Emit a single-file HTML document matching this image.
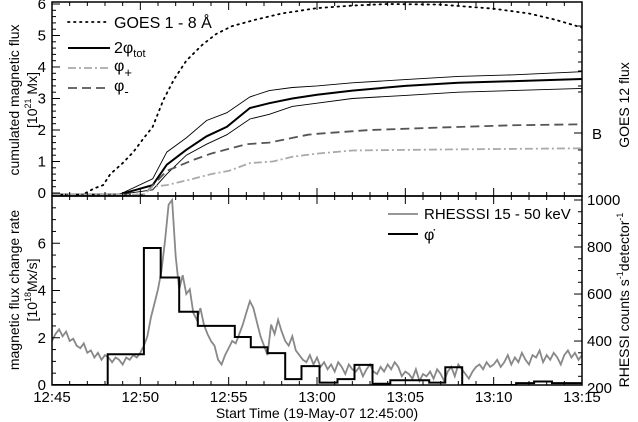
<!DOCTYPE html>
<html><head><meta charset="utf-8"><style>
html,body{margin:0;padding:0;background:#fff;}
svg{display:block;font-family:"Liberation Sans",sans-serif;}
</style></head><body>
<svg id="c" width="638" height="422" viewBox="0 0 638 422">
<text x="592" y="139" font-size="15">B</text>
<text x="317" y="418" font-size="14" text-anchor="middle">Start Time (19-May-07 12:45:00)</text>
<text transform="translate(19,100) rotate(-90)" font-size="14" text-anchor="middle">cumulated magnetic flux</text>
<text transform="translate(37,100) rotate(-90)" font-size="14" text-anchor="middle">[10<tspan font-size="9" dy="-6">21</tspan><tspan dy="6"> Mx]</tspan></text>
<text transform="translate(19,290) rotate(-90)" font-size="14" text-anchor="middle">magnetic flux change rate</text>
<text transform="translate(37,290) rotate(-90)" font-size="14" text-anchor="middle">[10<tspan font-size="9" dy="-6">18</tspan><tspan dy="6">Mx/s]</tspan></text>
<text transform="translate(629,105) rotate(-90)" font-size="14" text-anchor="middle">GOES 12 flux</text>
<text transform="translate(629,300) rotate(-90)" font-size="14" text-anchor="middle">RHESSI counts  s<tspan font-size="9" dy="-6">-1</tspan><tspan dy="6">detector</tspan><tspan font-size="9" dy="-6">-1</tspan></text>
<g>
<line x1="68" y1="22" x2="110" y2="22" stroke="#000" stroke-width="1.8" stroke-dasharray="1.5,4.5" stroke-linecap="round"/>
<text x="114" y="28" font-size="16">GOES 1 - 8 Å</text>
<line x1="68" y1="48" x2="110" y2="48" stroke="#000" stroke-width="2"/>
<text x="114" y="53" font-size="16">2φ<tspan font-size="11" dy="4">tot</tspan></text>
<line x1="68" y1="68" x2="110" y2="68" stroke="#aaa" stroke-width="1.8" stroke-dasharray="8,3,2,3"/>
<text x="114" y="71" font-size="16">φ<tspan font-size="13" dy="6">+</tspan></text>
<line x1="68" y1="88" x2="110" y2="88" stroke="#555" stroke-width="1.8" stroke-dasharray="9,5"/>
<text x="114" y="91" font-size="16">φ<tspan font-size="13" dy="5">-</tspan></text>
</g>
<g>
<line x1="388" y1="214" x2="418" y2="214" stroke="#888" stroke-width="1.8"/>
<text x="424" y="219" font-size="15">RHESSSI 15 - 50 keV</text>
<line x1="388" y1="234" x2="418" y2="234" stroke="#000" stroke-width="2"/>
<text x="424" y="240" font-size="16">φ̇</text>
</g>
</svg>
<script>
// ---- data ----
const goesT=[1.9,2.4,2.9,3.3,4,4.6,5.2,5.7,6.3,6.9,7.6,8.5,9.3,10.2,11.5,13,15,17,19,22,25,27,28.5,30];
const goesV=[0,0.15,0.25,0.6,0.95,1.3,1.75,2.1,2.95,3.6,4.2,4.7,5.05,5.3,5.5,5.7,5.87,5.95,6.0,5.98,5.85,5.7,5.5,5.25];
const totT=[0,3.8,5.7,6.5,7.6,8.75,9.9,11.2,12.3,13.6,15,17,20,23,26,30];
const totV=[-0.05,-0.05,0.25,0.9,1.37,1.8,2.1,2.7,2.85,3.0,3.12,3.25,3.4,3.5,3.55,3.62];
const totHi=[-0.05,-0.05,0.45,1.3,1.75,2.3,2.55,3.05,3.25,3.35,3.4,3.5,3.6,3.7,3.75,3.85];
const totLo=[-0.05,-0.05,0.1,0.6,1.2,1.55,1.85,2.35,2.5,2.75,2.85,3.0,3.1,3.2,3.25,3.32];
const minT=[0,5.2,6.5,8,9,10,11,12.3,13.6,14.5,15,18,22,26,30];
const minV=[-0.05,-0.05,0.7,1.05,1.25,1.4,1.55,1.6,1.75,1.85,1.88,2.0,2.08,2.15,2.18];
const plusT=[0,5.2,5.7,6.5,8,9,10,11.2,12.5,13.6,15,17,22,30];
const plusV=[-0.05,-0.05,0.2,0.25,0.45,0.6,0.7,0.95,1.0,1.15,1.25,1.35,1.38,1.42];
const stepT=[0,3.15,5.2,6.15,7.2,8.25,10.35,11.25,12.2,13.2,14.12,15.14,16.16,17.12,18.14,19.15,21.35,22.26,23.22,26.27,27.29,28.3,30];
const stepV=[0,1.3,5.8,4.55,3.1,2.5,2.03,1.6,1.35,0.25,0.8,0.1,0.25,0.85,0.05,0.2,0.1,0.75,0,0.08,0.15,0.08];
const rhessiV=[400,430,450,420,440,400,410,380,370,390,350,360,330,350,320,340,330,310,330,320,300,330,320,340,330,350,
380,420,500,560,620,700,830,980,1000,760,620,680,600,620,520,490,540,470,430,400,380,320,300,340,370,
400,390,430,470,520,570,540,480,420,380,340,470,430,490,440,400,380,420,360,340,320,310,340,300,330,
290,310,280,300,270,310,290,260,300,280,270,290,250,280,300,270,260,290,270,300,280,310,290,250,270,
260,240,280,230,260,250,270,240,280,260,230,270,290,250,300,280,260,240,270,290,300,280,310,290,300,
320,290,310,340,300,330,310,350,320,300,340,330,360,310,340,320,350,330,300,340,360,330,350,320,340];
const xTicks=["12:45","12:50","12:55","13:00","13:05","13:10","13:15"];
const topTicks=["0","1","2","3","4","5","6"];
const botTicks=["0","2","4","6"];
const rTicks=["200","400","600","800","1000"];
// ---- geometry ----
const L=52,R=582,T1=2,B1=196,B2=385;
const X=t=>L+(R-L)*t/30;
const Y1=v=>193-(193-4)*v/6;
const Y2=v=>B2-(B2-B1)*v/8;
const YR=c=>B2-(B2-B1)*(c-213)/(1017-213);
const svg=document.getElementById('c');
const NS='http://www.w3.org/2000/svg';
function mk(tag,attrs,parent){const e=document.createElementNS(NS,tag);for(const k in attrs)e.setAttribute(k,attrs[k]);(parent||svg).appendChild(e);return e;}
function txt(s,x,y,attrs){const e=mk('text',Object.assign({x:x,y:y,'font-size':15,fill:'#000'},attrs||{}));e.textContent=s;return e;}
function poly(ts,vs,yf,st,name){const p=ts.map((t,i)=>X(t).toFixed(1)+','+yf(vs[i]).toFixed(1)).join(' ');const e=mk('polyline',Object.assign({points:p,fill:'none'},st));return e;}
const defs=mk('defs',{});const cp1=mk('clipPath',{id:'cp1'},defs);mk('rect',{x:L,y:T1,width:R-L,height:B1-T1},cp1);
const cp2=mk('clipPath',{id:'cp2'},defs);mk('rect',{x:L,y:B1,width:R-L,height:B2-B1},cp2);
const g1=mk('g',{'clip-path':'url(#cp1)'});


const g2=mk('g',{'clip-path':'url(#cp2)'});


function polyIn(g,ts,vs,yf,st,name){const e=poly(ts,vs,yf,st,name);g.appendChild(e);return e;}
polyIn(g1,goesT,goesV,Y1,{stroke:'#000','stroke-width':1.8,'stroke-dasharray':'1.5,4.5','stroke-linecap':'round'},'goes-series');
polyIn(g1,totT,totHi,Y1,{stroke:'#000','stroke-width':0.9},'tot-upper-bound');
polyIn(g1,totT,totLo,Y1,{stroke:'#000','stroke-width':0.9},'tot-lower-bound');
polyIn(g1,totT,totV,Y1,{stroke:'#000','stroke-width':2},'tot-series');
polyIn(g1,minT,minV,Y1,{stroke:'#555','stroke-width':1.8,'stroke-dasharray':'9,5'},'phi-minus-series');
polyIn(g1,plusT,plusV,Y1,{stroke:'#aaa','stroke-width':1.8,'stroke-dasharray':'8,3,2,3'},'phi-plus-series');
const rT=rhessiV.map((_,i)=>i*0.2);
polyIn(g2,rT,rhessiV,YR,{stroke:'#888','stroke-width':1.8},'rhessi-series');
let sp=[];for(let i=0;i<stepV.length;i++){sp.push(X(stepT[i]).toFixed(1)+','+Y2(stepV[i]).toFixed(1));sp.push(X(stepT[i+1]).toFixed(1)+','+Y2(stepV[i]).toFixed(1));}
const st=mk('polyline',{points:sp.join(' '),fill:'none',stroke:'#000','stroke-width':2},g2);


const f1=mk('rect',{x:L,y:T1,width:R-L,height:B1-T1,fill:'none',stroke:'#000','stroke-width':1.5});


const f2=mk('rect',{x:L,y:B1,width:R-L,height:B2-B1,fill:'none',stroke:'#000','stroke-width':1.5});


const tg=mk('g',{stroke:'#000','stroke-width':1});


for(let m=0;m<=30;m++){const x=X(m),len=m%5==0?8:4;
 mk('line',{x1:x,x2:x,y1:T1,y2:T1+len},tg);mk('line',{x1:x,x2:x,y1:B1,y2:B1-len},tg);
 mk('line',{x1:x,x2:x,y1:B1,y2:B1+len},tg);mk('line',{x1:x,x2:x,y1:B2,y2:B2-len},tg);}
for(let v=0;v<=6.001;v+=0.2){const y=Y1(v),maj=Math.abs(v-Math.round(v))<0.01;mk('line',{x1:L,x2:L+(maj?8:4),y1:y,y2:y},tg);}
for(let v=0;v<=8.001;v+=0.5){const y=Y2(v),maj=Math.abs(v/2-Math.round(v/2))<0.01;mk('line',{x1:L,x2:L+(maj?8:4),y1:y,y2:y},tg);}
for(let c=250;c<=1000;c+=50){const y=YR(c),maj=c%200==0;mk('line',{x1:R,x2:R-(maj?8:4),y1:y,y2:y},tg);}
[26,40,52,62,71,79,86,92,133,150,163,174,184].forEach(y=>mk('line',{x1:R,x2:R-(y==133?8:4),y1:y,y2:y},tg));
xTicks.forEach((s,i)=>{const e=txt(s,X(i*5),402,{'text-anchor':'middle'});
 
 });
topTicks.forEach(s=>{const e=txt(s,46,Y1(+s)+5,{'text-anchor':'end'});
 
 });
botTicks.forEach(s=>{const e=txt(s,46,Y2(+s)+5,{'text-anchor':'end'});
 
 });
rTicks.forEach(s=>{const e=txt(s,587,YR(+s)+5);
 
 });
</script>
</body></html>
